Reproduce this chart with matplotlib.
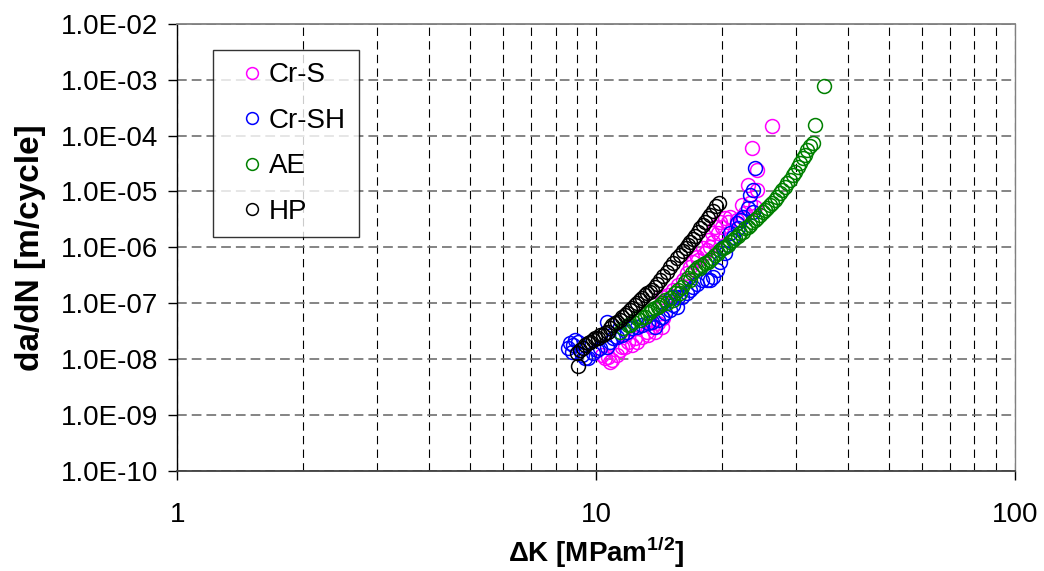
import matplotlib
matplotlib.use("Agg")
import matplotlib.pyplot as plt
from matplotlib.ticker import FixedLocator, FuncFormatter, NullLocator, LogLocator

plt.rcParams['font.family'] = ['Liberation Sans', 'DejaVu Sans']
plt.rcParams['mathtext.fontset'] = 'custom'
plt.rcParams['mathtext.rm'] = 'Liberation Sans'
plt.rcParams['mathtext.bf'] = 'Liberation Sans:bold'
plt.rcParams['lines.scale_dashes'] = False

# ---- data (ΔK [MPa m^1/2], da/dN [m/cycle]) ----
crs_dk = [10.33, 10.50, 10.68, 10.91, 10.79, 11.22, 11.40, 11.53, 11.72, 11.91,
          12.18, 12.38, 12.52, 12.87, 13.23, 13.30, 13.60, 13.82, 14.05, 14.36,
          14.44, 14.36, 14.36, 14.85, 15.26, 15.69, 16.13, 16.48, 16.76, 17.04,
          17.41, 17.51, 18.00, 18.20, 18.40, 18.50, 18.70, 18.91, 19.02, 19.23,
          19.55, 19.76, 19.98, 20.31, 20.65, 20.88, 21.70, 22.30, 22.67, 22.30,
          23.05, 23.30, 23.95, 24.22, 24.22, 23.56, 26.30]
crs_dadn = [1.17e-8, 1.03e-8, 1.08e-8, 9.52e-9, 8.76e-9, 1.17e-8, 1.44e-8, 1.63e-8, 1.63e-8, 2.00e-8,
            1.77e-8, 2.36e-8, 2.00e-8, 2.46e-8, 3.02e-8, 2.67e-8, 3.71e-8, 3.02e-8, 4.38e-8, 3.71e-8,
            5.38e-8, 1.28e-7, 1.04e-7, 1.39e-7, 1.71e-7, 2.10e-7, 2.58e-7, 3.45e-7, 4.42e-7, 5.43e-7,
            6.67e-7, 5.90e-7, 9.67e-7, 7.87e-7, 8.91e-7, 1.35e-6, 1.01e-6, 1.80e-6, 1.24e-6, 2.30e-6,
            1.80e-6, 2.83e-6, 2.30e-6, 3.34e-6, 2.83e-6, 3.48e-6, 3.07e-6, 3.48e-6, 4.10e-6, 5.71e-6,
            1.30e-5, 6.20e-6, 5.25e-6, 1.06e-5, 2.42e-5, 5.99e-5, 1.486e-4]

crsh_dk = [8.57, 8.67, 8.81, 8.91, 8.76, 9.05, 9.25, 9.41, 9.56, 9.83,
           10.05, 10.22, 10.62, 10.79, 10.97, 10.62, 11.22, 11.53, 11.85, 12.18,
           12.52, 12.87, 13.30, 13.60, 13.82, 14.05, 14.36, 14.60, 15.01, 15.26,
           15.60, 15.18, 15.69, 16.04, 16.48, 16.76, 17.04, 17.41, 17.90, 18.40,
           18.70, 19.02, 19.44, 19.76, 20.31, 20.09, 20.65, 20.88, 21.22, 21.70,
           21.82, 22.06, 22.42, 23.05, 23.69, 23.30, 23.69, 23.95]
crsh_dadn = [1.56e-8, 1.92e-8, 1.77e-8, 2.17e-8, 1.32e-8, 2.00e-8, 1.17e-8, 1.03e-8, 1.03e-8, 1.27e-8,
             1.44e-8, 1.56e-8, 1.63e-8, 2.00e-8, 2.36e-8, 4.56e-8, 2.46e-8, 2.67e-8, 3.02e-8, 3.56e-8,
             3.71e-8, 4.03e-8, 4.38e-8, 4.56e-8, 3.71e-8, 4.96e-8, 5.61e-8, 6.62e-8, 7.49e-8, 9.21e-8,
             8.48e-8, 1.28e-7, 1.28e-7, 1.28e-7, 1.51e-7, 1.71e-7, 1.94e-7, 2.19e-7, 2.58e-7, 2.58e-7,
             2.58e-7, 2.92e-7, 3.90e-7, 5.43e-7, 7.87e-7, 1.01e-6, 1.095e-6, 1.80e-6, 1.52e-6, 2.71e-6,
             2.21e-6, 3.07e-6, 3.48e-6, 5.04e-6, 4.27e-6, 8.62e-6, 1.06e-5, 2.63e-5]

ae_dk = [11.40, 11.59, 11.91, 12.04, 12.24, 12.52, 12.73, 12.87, 13.08, 13.23,
         13.45, 13.60, 13.82, 14.05, 14.21, 14.36, 14.60, 14.76, 15.01, 15.26,
         15.43, 15.69, 15.86, 16.04, 16.30, 16.57, 16.76, 16.94, 17.22, 17.51,
         17.70, 17.90, 18.20, 18.50, 18.70, 18.91, 19.23, 19.55, 19.76, 20.09,
         20.31, 20.65, 20.88, 21.22, 21.46, 21.82, 22.06, 22.42, 22.67, 23.05,
         23.30, 23.56, 23.95, 24.22, 24.62, 25.03, 25.31, 25.59, 26.01, 26.30,
         26.74, 27.04, 27.49, 27.79, 28.25, 28.56, 29.04, 29.52, 29.85, 30.35,
         30.68, 31.19, 31.54, 31.89, 32.42, 32.96, 33.32, 35.01]
ae_dadn = [3.02e-8, 3.56e-8, 4.03e-8, 4.03e-8, 4.56e-8, 5.38e-8, 4.96e-8, 5.61e-8, 5.61e-8, 6.62e-8,
           6.90e-8, 7.49e-8, 8.13e-8, 8.48e-8, 9.21e-8, 1.00e-7, 1.13e-7, 1.00e-7, 1.23e-7, 1.13e-7,
           1.51e-7, 1.71e-7, 1.51e-7, 1.94e-7, 2.38e-7, 2.81e-7, 2.58e-7, 3.45e-7, 3.90e-7, 4.42e-7,
           4.24e-7, 4.80e-7, 5.21e-7, 5.43e-7, 5.90e-7, 6.40e-7, 7.25e-7, 7.87e-7, 8.91e-7, 9.67e-7,
           1.01e-6, 1.095e-6, 1.24e-6, 1.35e-6, 1.46e-6, 1.59e-6, 1.80e-6, 1.87e-6, 2.21e-6, 2.30e-6,
           2.50e-6, 2.83e-6, 3.07e-6, 3.34e-6, 3.78e-6, 4.27e-6, 4.64e-6, 5.04e-6, 5.71e-6, 6.20e-6,
           7.01e-6, 7.94e-6, 9.36e-6, 1.06e-5, 1.20e-5, 1.41e-5, 1.60e-5, 1.97e-5, 2.23e-5, 2.74e-5,
           3.23e-5, 3.97e-5, 4.49e-5, 5.52e-5, 6.51e-5, 7.37e-5, 1.549e-4, 7.74e-4]

hp_dk = [9.05, 9.00, 9.15, 9.31, 9.41, 9.56, 9.67, 9.83, 9.94, 10.10,
         10.22, 10.39, 10.50, 10.68, 10.79, 10.91, 11.10, 11.22, 11.40, 11.53,
         11.72, 11.85, 12.04, 12.18, 12.38, 12.52, 12.73, 12.87, 13.08, 13.23,
         13.45, 13.60, 13.82, 13.98, 14.21, 14.44, 14.76, 15.01, 15.26, 15.60,
         15.86, 16.13, 16.39, 16.57, 16.76, 17.04, 17.22, 17.51, 17.70, 18.00,
         18.20, 18.50, 18.70, 19.02, 19.33, 19.65]
hp_dadn = [7.43e-9, 1.27e-8, 1.44e-8, 1.56e-8, 1.77e-8, 1.92e-8, 2.00e-8, 2.17e-8, 2.36e-8, 2.36e-8,
           2.67e-8, 2.67e-8, 2.90e-8, 3.02e-8, 3.56e-8, 4.03e-8, 4.38e-8, 4.56e-8, 4.96e-8, 5.61e-8,
           6.09e-8, 6.62e-8, 7.49e-8, 8.13e-8, 9.21e-8, 1.00e-7, 1.13e-7, 1.23e-7, 1.39e-7, 1.51e-7,
           1.57e-7, 1.71e-7, 1.94e-7, 2.19e-7, 2.58e-7, 3.05e-7, 3.59e-7, 4.42e-7, 5.21e-7, 6.40e-7,
           7.25e-7, 8.55e-7, 9.67e-7, 1.095e-6, 1.24e-6, 1.40e-6, 1.59e-6, 1.87e-6, 2.21e-6, 2.50e-6,
           2.83e-6, 3.34e-6, 3.78e-6, 4.45e-6, 5.47e-6, 6.20e-6]

series_labels = ['Cr-S', 'Cr-SH', 'AE', 'HP']
series_colors = ['#FF00FF', '#0000FF', '#008000', '#000000']

x_ticks = [1, 10, 100]
x_ticklabels = ['1', '10', '100']
y_ticks = [1e-10, 1e-9, 1e-8, 1e-7, 1e-6, 1e-5, 1e-4, 1e-3, 1e-2]

fig = plt.figure(figsize=(10.44, 5.71), dpi=100)
ax = fig.add_axes([0.1698, 0.1757, 0.8024, 0.7823])

data = [(crs_dk, crs_dadn), (crsh_dk, crsh_dadn), (ae_dk, ae_dadn), (hp_dk, hp_dadn)]
for (xs, ys), lab, col in zip(data, series_labels, series_colors):
    ax.plot(xs, ys, linestyle='none', marker='o', markersize=10,
            markerfacecolor='none', markeredgecolor=col, markeredgewidth=1.1,
            label=lab, zorder=3)

ax.set_xscale('log')
ax.set_yscale('log')
ax.set_xlim(1, 100)
ax.set_ylim(1e-10, 1e-2)

ax.xaxis.set_major_locator(FixedLocator(x_ticks))
ax.set_xticklabels(x_ticklabels)
ax.xaxis.set_minor_locator(LogLocator(base=10, subs=range(2, 10), numticks=20))
ax.yaxis.set_major_locator(FixedLocator(y_ticks))
ax.yaxis.set_major_formatter(FuncFormatter(lambda v, p: f"{v:.1E}"))
ax.yaxis.set_minor_locator(NullLocator())

ax.tick_params(axis='both', which='major', direction='out', length=6.5, width=1.0,
               labelsize=20, color='black')
ax.tick_params(axis='x', which='major', pad=16)
ax.tick_params(axis='y', which='major', pad=7)
ax.tick_params(axis='x', which='minor', length=0)

ax.set_axisbelow(True)
ax.yaxis.grid(True, which='major', color='#707070', linestyle=(0, (7.0, 3.6)), linewidth=1.2)
ax.xaxis.grid(True, which='both', color='#000000', linestyle=(0, (6.0, 3.8)), linewidth=0.8)

ax.spines['left'].set_color('black')
ax.spines['left'].set_linewidth(1.0)
ax.spines['bottom'].set_color('#404040')
ax.spines['bottom'].set_linewidth(1.3)
ax.spines['top'].set_color('#808080')
ax.spines['top'].set_linewidth(1.3)
ax.spines['right'].set_color('#808080')
ax.spines['right'].set_linewidth(1.0)

ax.set_ylabel('da/dN [m/cycle]', fontsize=24, fontweight='bold', labelpad=11)
ax.set_xlabel(r'ΔK [MPam$^{\mathbf{1/2}}$]', fontsize=20, fontweight='bold', labelpad=5)

leg = ax.legend(loc='upper left', bbox_to_anchor=(0.0426, 0.9418), borderaxespad=0,
                fontsize=20, frameon=True, fancybox=False, edgecolor='black',
                handlelength=1.9, handletextpad=-0.33, borderpad=0.45, labelspacing=0.7,
                markerscale=0.85)
leg.get_frame().set_linewidth(1.0)

fig.savefig('out.png', dpi=100)
